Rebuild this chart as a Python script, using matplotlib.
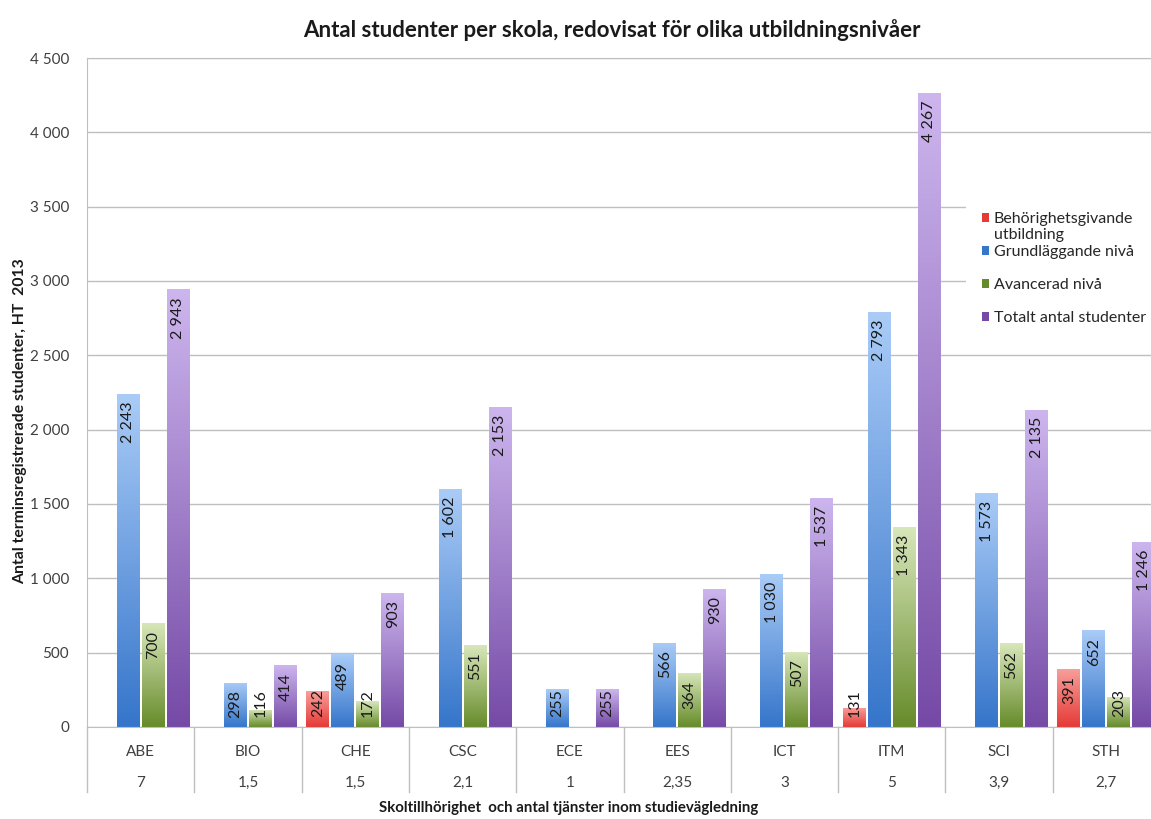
import numpy as np
import matplotlib
matplotlib.use("Agg")
import matplotlib.pyplot as plt
from matplotlib.colors import LinearSegmentedColormap
from matplotlib.transforms import blended_transform_factory

plt.rcParams['font.family'] = ['Lato', 'DejaVu Sans']

# Data per skola
schools = ['ABE', 'BIO', 'CHE', 'CSC', 'ECE', 'EES', 'ICT', 'ITM', 'SCI', 'STH']
tjanster = ['7', '1,5', '1,5', '2,1', '1', '2,35', '3', '5', '3,9', '2,7']
behorighet = [0, 0, 242, 0, 0, 0, 0, 131, 0, 391]
grundniva = [2243, 298, 489, 1602, 255, 566, 1030, 2793, 1573, 652]
avancerad = [700, 116, 172, 551, 0, 364, 507, 1343, 562, 203]
totalt = [2943, 414, 903, 2153, 255, 930, 1537, 4267, 2135, 1246]
series_names = ['Behörighetsgivande utbildning', 'Grundläggande nivå',
                'Avancerad nivå', 'Totalt antal studenter']

# (top colour, bottom colour) of each gradient
colors = [('#F7A09C', '#E53A36'),
          ('#AACCF7', '#3575CA'),
          ('#D8E7BA', '#668B2A'),
          ('#CDB6EE', '#754AA6')]

W, H = 1151, 819
fig = plt.figure(figsize=(W / 100, H / 100), dpi=100)
ax = fig.add_axes([87 / W, 1 - 727 / H, (1160 - 87) / W, 669 / H])

x = np.arange(len(schools))
step = 0.233
width = 0.214
ymax = 4500
px_per_unit = 669 / ymax
label_size = 11.5


def fmt(v):
    return f"{v:,}".replace(',', ' ')


def gradient_fill(ax, patch, top, bottom):
    cmap = LinearSegmentedColormap.from_list('g', [bottom, top])
    grad = np.linspace(0, 1, 256).reshape(-1, 1)
    x0, y0 = patch.get_x(), patch.get_y()
    w, h = patch.get_width(), patch.get_height()
    im = ax.imshow(grad, extent=(x0, x0 + w, y0, y0 + h), origin='lower',
                   cmap=cmap, aspect='auto', zorder=2, interpolation='bilinear')
    im.set_clip_path(patch)
    patch.set_facecolor('none')


all_series = [behorighet, grundniva, avancerad, totalt]
handles = []
for k, vals in enumerate(all_series):
    vals = np.array(vals)
    pos = x + (k - 1.5) * step
    mask = vals > 0
    bars = ax.bar(pos[mask], vals[mask], width, color=colors[k][1],
                  linewidth=0, zorder=2, label=series_names[k])
    handles.append(bars)
    for patch, v in zip(bars.patches, vals[mask]):
        gradient_fill(ax, patch, colors[k][0], colors[k][1])
        xc = patch.get_x() + patch.get_width() / 2
        label = fmt(int(v))
        text_len = len(label) * 8.0
        if v * px_per_unit - 8 - text_len < 10:
            # short bar: label sits near the base
            ax.annotate(label, (xc, 0), xytext=(0, 7), textcoords='offset points',
                        rotation=90, ha='center', va='bottom', fontsize=label_size,
                        color='#1A1A1A', zorder=4)
        else:
            ax.annotate(label, (xc, v), xytext=(0, -5.5), textcoords='offset points',
                        rotation=90, ha='center', va='top', fontsize=label_size,
                        color='#1A1A1A', zorder=4)

ax.set_xlim(-0.5, len(schools) - 0.5)
ax.set_ylim(0, ymax)
ax.set_aspect('auto')

ax.set_yticks(range(0, ymax + 1, 500))
ax.set_yticklabels([fmt(v) for v in range(0, ymax + 1, 500)], fontsize=11, color='#404040')
ax.tick_params(axis='y', length=0, pad=13)
ax.set_xticks([])
ax.yaxis.grid(True, color='#BFBFBF', linewidth=1)
ax.set_axisbelow(True)

for side in ['left', 'bottom', 'top']:
    ax.spines[side].set_color('#BFBFBF')
ax.spines['right'].set_visible(False)

# two-row category axis
trans = blended_transform_factory(ax.transData, ax.transAxes)
for i in range(len(schools)):
    ax.text(x[i], -0.0374, schools[i], transform=trans, ha='center', va='center',
            fontsize=11, color='#404040')
    ax.text(x[i], -0.0837, tjanster[i], transform=trans, ha='center', va='center',
            fontsize=11, color='#404040')
for b in np.arange(-0.5, len(schools), 1.0):
    ax.plot([b, b], [0, -0.097], transform=trans, color='#BFBFBF', lw=1, clip_on=False)

fig.text(612 / W, 1 - 30 / H, 'Antal studenter per skola, redovisat för olika utbildningsnivåer',
         ha='center', va='center', fontsize=16, fontweight='bold', color='#1A1A1A')
fig.text(569 / W, 1 - 808 / H, 'Skoltillhörighet  och antal tjänster inom studievägledning',
         ha='center', va='center', fontsize=10.8, fontweight='bold', color='#1A1A1A')
fig.text(20 / W, 1 - 421 / H, 'Antal terminsregistrerade studenter, HT  2013',
         ha='center', va='center', rotation=90, fontsize=11.3, fontweight='bold', color='#1A1A1A')

leg_labels = ['Behörighetsgivande', 'Grundläggande nivå', 'Avancerad nivå', 'Totalt antal studenter']
leg = fig.legend(handles, leg_labels, loc='upper left',
                 bbox_to_anchor=(966 / W, 1 - 196 / H), bbox_transform=fig.transFigure,
                 frameon=True, fancybox=False, edgecolor='none', facecolor='white',
                 framealpha=1, borderpad=1.0, borderaxespad=0, fontsize=11.5,
                 handlelength=0.45, handleheight=0.45, handletextpad=0.3,
                 labelspacing=1.19, labelcolor='#262626')
for lh, c in zip(leg.legend_handles, colors):
    lh.set_facecolor(c[1])
fig.canvas.draw()
bb = leg.get_texts()[0].get_window_extent()
fig.text(bb.x0 / W, ((bb.y0 + bb.y1) / 2 - 16) / H, 'utbildning',
         ha='left', va='center', fontsize=11.5, color='#262626', zorder=10)

fig.savefig('out.png', dpi=100)
